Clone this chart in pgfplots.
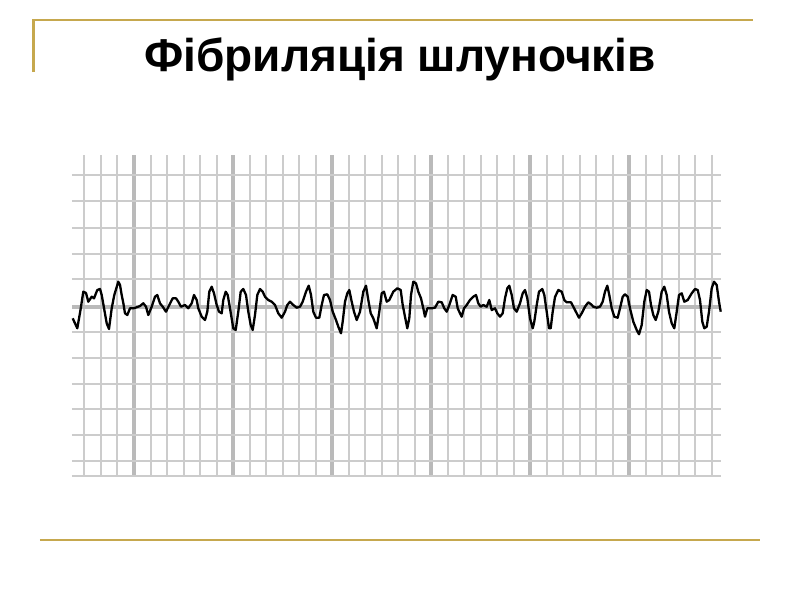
\documentclass[border=0pt]{standalone}
\usepackage{pgfplots}
\pgfplotsset{compat=1.18}
\usepackage{fontspec}
\setmainfont{Liberation Sans}
\definecolor{gold}{RGB}{198,168,78}
\begin{document}
\begin{tikzpicture}
\begin{axis}[
  scale only axis, width=648.5pt, height=320.5pt,
  xmin=72, xmax=720.5, ymin=155, ymax=475.5, y dir=reverse,
  clip=false,
  axis line style={draw=none}, tick style={draw=none},
  xticklabel=\empty, yticklabel=\empty,
  xtick={134,233,332,431,530,629},
  minor xtick={84.5,101,117.5,150.5,167,183.5,200,216.5,249.5,266,282.5,299,315.5,348.5,365,381.5,398,414.5,447.5,464,480.5,497,513.5,546.5,563,579.5,596,612.5,645.5,662,678.5,695,711.5},
  ytick={307},
  minor ytick={175,201,227.5,253.5,279,332,357.5,383.5,409,434.5,461,475.5},
  grid=both,
  major grid style={line width=3.4pt, color=black!27},
  minor grid style={line width=2pt, color=black!20},
]
\path (axis cs:0,0) rectangle (axis cs:800,600);
\draw[gold, line width=2.2pt] (axis cs:33.5,72) -- (axis cs:33.5,20) -- (axis cs:752.5,20);
\draw[gold, line width=2.8pt] (axis cs:40,540) -- (axis cs:760,540);
\node[anchor=base, font=\bfseries\fontsize{46}{54}\selectfont] at (axis cs:400,71) {Фібриляція шлуночків};
\addplot[black, line width=2.3pt, line join=round] coordinates {
(72.7,318.3) (77.3,328.3) (80.5,310) (83.3,291.7) (86,293) (88.3,301.7) (91.7,296.7) (94,298.3) (97.3,290) (100,289) (101.7,295) (104,308) (106.7,323.3) (109,329) (111.7,308.3) (114.3,295) (118.3,281.7) (120,285) (121.7,295) (123.3,303) (125,313.3) (127.3,315) (130,308.3) (133.3,308.3) (136.7,307.3) (140,306) (143.3,303.3) (146,306.7) (148.3,315) (151.7,306.7) (155,296.7) (157.3,295) (160,303.3) (162.7,306.7) (166,311.7) (169.3,305) (172.7,298.3) (176,298.3) (178.3,301.7) (181,306.7) (185,305) (188.3,308.3) (191.7,303.3) (194,295) (196.7,300) (198.3,308.3) (201.7,316.7) (205,320) (207.3,311.7) (209.3,291.7) (211.7,286.7) (214,293.3) (216.7,305) (219,311.7) (221.7,313.3) (223.3,300) (225.7,291.7) (227.7,295) (230,308.3) (233.3,328.3) (235.7,330) (238.3,311.7) (240.7,291.7) (243.3,289) (246,295) (248.3,311.7) (250.7,325) (252.7,330) (255,315) (257.3,295) (260,289) (262.7,291.7) (265,296.7) (268.3,300) (271.7,301.7) (275,305) (278.3,313.3) (281.7,317.7) (285,311.7) (287.3,305) (290,301.7) (293.3,305) (296.7,307.7) (300,306.7) (302.7,301.7) (306,291.7) (308.7,285.7) (311,295) (313.3,311.7) (316,317.7) (319.3,317.7) (321.7,305) (324,295) (327.3,294.3) (330,300) (332.7,311.7) (336,320) (338.3,326.7) (341,333.3) (342.7,321.7) (345,301.7) (347.3,293.3) (349.3,290) (351.7,301.7) (354,311.7) (356.7,320) (360,311.7) (363.3,291.7) (366,285.7) (368.3,300) (370.7,313.3) (373.3,318.3) (376.7,328.3) (379.3,311.7) (381.7,293.3) (384,291.7) (386.7,301.7) (389.3,300) (393.3,291.7) (397.3,288.3) (400.7,290) (402.7,305) (405,316.7) (407.3,328.3) (409.3,318.3) (411,295) (413.3,281.7) (416,283.3) (418.3,291.7) (421,298.3) (423.3,308.3) (425,316.7) (427.3,308.3) (431.7,308.3) (435,307.7) (438.3,301.7) (441.7,302.3) (444.3,308.3) (446.7,311.7) (449.3,305) (452.7,295) (455.7,296.7) (457.7,308.3) (460,313.3) (461.7,316.7) (464,308.3) (466.7,305) (470,300) (473.3,296.7) (476,295) (478.3,303.3) (480.7,306.7) (483.3,305) (486.7,306.7) (489.3,300) (491.7,310) (495,308.3) (497.3,313.3) (500,316.7) (502.7,313.3) (505,298.3) (507.3,288.3) (509.3,285.7) (511.7,295) (514,308.3) (516.7,311.7) (520,303.3) (522.7,293.3) (525,290) (527.3,298.3) (530,318.3) (532.7,328.3) (534.3,321.7) (536.7,305) (539,291.7) (542.3,289) (544.3,295) (546.7,311.7) (549,328.3) (550.7,328.3) (552.7,311.7) (555,297) (558.3,290) (561.7,291.7) (564.3,300) (566.7,302.3) (571,302.3) (573.3,306.7) (576.7,313.3) (579,317.7) (581.7,313.3) (585,306.7) (588.3,302.3) (591,304.3) (593.3,306.7) (596.7,307.7) (600,306.7) (602.7,301.7) (605,291.7) (607.3,285.7) (609.3,295) (611.7,308.3) (614.3,316.7) (617.7,317.7) (620,308.3) (622.7,296.7) (625,294.3) (627.7,296.7) (630,308.3) (633.3,321.7) (636.7,330) (639,334.3) (641.7,325) (644.3,301.7) (646.7,290) (649,291.7) (651,305) (653.3,315) (655.7,320) (658.3,311.7) (661.7,291.7) (664.3,286.7) (666.7,295) (669,311.7) (671.7,323.3) (674.3,328.3) (676.7,311.7) (679,295) (681.7,293.3) (684.3,301.7) (687.7,300) (691.7,293.3) (695,289) (697.7,290) (700,300) (702.3,321.7) (704.3,328.3) (706.7,326.7) (709,311.7) (711.7,288.3) (714,281.7) (716.7,285) (719,301.7) (720.7,311.7)
};
\end{axis}
\end{tikzpicture}
\end{document}
